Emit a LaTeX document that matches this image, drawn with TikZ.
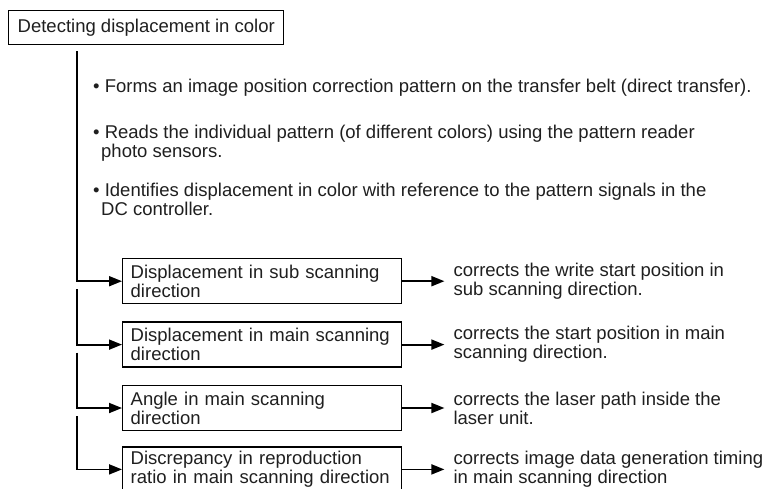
\documentclass[tikz,border=0pt]{standalone}
\usepackage{fontspec}
\setmainfont{Liberation Sans}
\usetikzlibrary{arrows.meta,positioning,calc}

\tikzset{
  txt/.style={font=\fontsize{18.5}{19}\selectfont,text=black!88,align=left},
  box/.style={txt,draw,line width=1.4pt,inner xsep=8pt,minimum height=45pt,
              text width=263pt},
  note/.style={txt,inner xsep=9pt,inner ysep=0pt},
  point/.style={txt,inner sep=0pt,anchor=north west},
  link/.style={line width=1.8pt,-{Triangle[length=13pt,width=10pt]}}
}

\begin{document}
\begin{tikzpicture}[x=1pt,y=-1pt]
  \useasboundingbox (0,0) rectangle (766,488);
  %% heading
  \node[txt,draw,line width=1.4pt,inner xsep=9pt,minimum height=34pt,
        anchor=north west] (head) at (8,10) {Detecting displacement in color};
  %% bullet points
  \node[point] (p1) at (93,78.5)
       {\textbullet\ Forms an image position correction pattern on the transfer belt (direct transfer).};
  \node[point] (p2) at (93,125)
       {\textbullet\ Reads the individual pattern (of different colors) using the pattern reader\\
        \hspace*{8pt}photo sensors.};
  \node[point] (p3) at (93,182.5)
       {\textbullet\ Identifies displacement in color with reference to the pattern signals in the\\
        \hspace*{8pt}DC controller.};
  %% kinds of displacement
  \node[box,anchor=north west] (b1) at (122,258)
       {Displacement in sub scanning\\direction};
  \node[box,below=17pt of b1] (b2)
       {Displacement in main scanning\\direction};
  \node[box,below=17pt of b2] (b3)
       {Angle in main scanning\\direction};
  \node[box,below=15pt of b3] (b4)
       {Discrepancy in reproduction\\ratio in main scanning direction};
  %% corrections
  \node[note,right=42pt of b1] (c1)
       {corrects the write start position in\\sub scanning direction.};
  \node[note,right=42pt of b2] (c2)
       {corrects the start position in main\\scanning direction.};
  \node[note,right=42pt of b3] (c3)
       {corrects the laser path inside the\\laser unit.};
  \node[note,right=42pt of b4] (c4)
       {corrects image data generation timing\\in main scanning direction};
  %% tree
  \coordinate (j1) at ([yshift=-6pt]head.south -| 77,0);
  \coordinate (j2) at ([yshift=-8pt]b1.west -| j1);
  \coordinate (j3) at ([yshift=-8pt]b2.west -| j1);
  \coordinate (j4) at ([yshift=-8pt]b3.west -| j1);
  \draw[link] (j1) |- (b1);
  \draw[link] (j2) |- (b2);
  \draw[link] (j3) |- (b3);
  \draw[link] (j4) |- (b4);
  \foreach \i in {1,...,4}
    \draw[link] (b\i) -- (c\i);
\end{tikzpicture}
\end{document}
